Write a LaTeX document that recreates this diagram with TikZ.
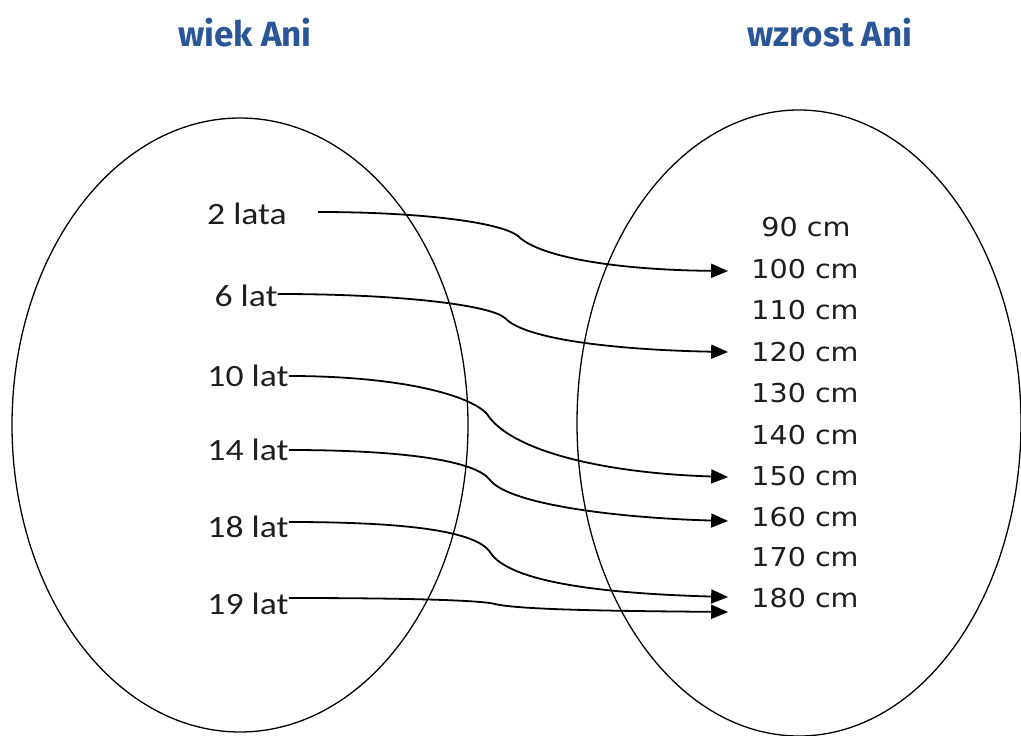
\documentclass[tikz,border=0pt]{standalone}
\usepackage{fontspec}
\setmainfont{Carlito}
\newfontfamily\titlefont{Fira Sans}
\newfontfamily\numfont{DejaVu Sans}
\usetikzlibrary{arrows.meta}
\definecolor{titleblue}{HTML}{2A5699}
\definecolor{txt}{HTML}{1E1E1E}
\tikzset{
  oval/.style={draw=black, line width=1.3pt},
  ttl/.style={font=\titlefont\bfseries\fontsize{35}{38}\selectfont, text=titleblue},
  age/.style={font=\fontsize{31}{34}\selectfont, text=txt, xscale=1.15, inner sep=0pt},
  hgt/.style={font=\numfont\fontsize{26}{30}\selectfont, text=txt, xscale=1.1, inner sep=0pt},
  conn/.style={line width=1.8pt, -{Triangle[length=17pt,width=14pt]}},
}
\begin{document}
\begin{tikzpicture}[x=1pt,y=-1pt]
\useasboundingbox (0,0) rectangle (1021,736);
\node[ttl] (t1) at (245,33) {wiek Ani};
\node[ttl] (t2) at (830,33) {wzrost Ani};
\draw[oval] (240,425) ellipse [x radius=228, y radius=307];
\draw[oval] (799,423) ellipse [x radius=222, y radius=313];
\node[age] (a2) at (247,214) {2 lata};
\node[age] (a6) at (246,296) {6 lat};
\node[age] (a10) at (248,376) {10 lat};
\node[age] (a14) at (248,450) {14 lat};
\node[age] (a18) at (248,527) {18 lat};
\node[age] (a19) at (248,604) {19 lat};
\node[hgt] (h90) at (806,227) {90 cm};
\node[hgt] (h100) at (805,269) {100 cm};
\node[hgt] (h110) at (805,310) {110 cm};
\node[hgt] (h120) at (805,352) {120 cm};
\node[hgt] (h130) at (805,393) {130 cm};
\node[hgt] (h140) at (805,435) {140 cm};
\node[hgt] (h150) at (805,476) {150 cm};
\node[hgt] (h160) at (805,517) {160 cm};
\node[hgt] (h170) at (805,557) {170 cm};
\node[hgt] (h180) at (805,598) {180 cm};
\draw[conn] ([xshift=31pt,yshift=2pt]a2.east) .. controls (420,212) and (500,222) .. (518,236)
  .. controls (540,258) and (620,270) .. ([xshift=-23pt,yshift=-2pt]h100.west);
\draw[conn] ([yshift=2pt]a6.east) .. controls (400,294) and (490,305) .. (505,318)
  .. controls (525,340) and (620,350) .. ([xshift=-23pt]h120.west);
\draw[conn] (a10.east) .. controls (400,376) and (470,395) .. (487,414)
  .. controls (510,450) and (600,473) .. ([xshift=-23pt,yshift=-1pt]h150.west);
\draw[conn] (a14.east) .. controls (400,450) and (475,460) .. (490,480)
  .. controls (510,505) and (620,518) .. ([xshift=-23pt,yshift=-4pt]h160.west);
\draw[conn] ([yshift=5pt]a18.east) .. controls (400,522) and (475,530) .. (490,552)
  .. controls (510,585) and (620,594) .. ([xshift=-23pt,yshift=1pt]h180.west);
\draw[conn] ([yshift=6pt]a19.east) .. controls (400,598) and (480,600) .. (495,604)
  .. controls (520,610) and (620,611) .. ([xshift=-23pt,yshift=-14pt]h180.west);
\end{tikzpicture}
\end{document}
